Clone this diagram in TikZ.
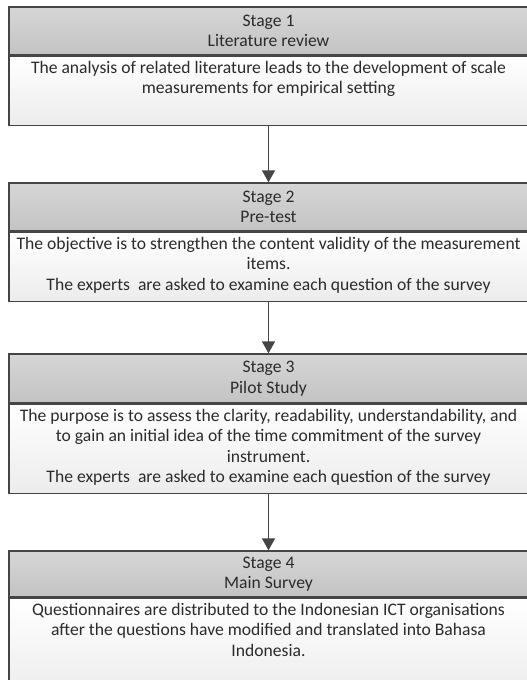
\documentclass[tikz,border=0pt]{standalone}
\usepackage{fontspec}
\setmainfont{Carlito}
\usetikzlibrary{arrows.meta}
\definecolor{bordergray}{HTML}{454545}
\definecolor{hdrtop}{HTML}{D6D6D6}
\definecolor{hdrbot}{HTML}{C3C3C3}
\definecolor{bdybot}{HTML}{ECECEC}
\definecolor{textc}{HTML}{2B2B2B}
\newcommand{\mainsz}{\fontsize{17.6}{20.5}\selectfont}
\begin{document}
\begin{tikzpicture}[x=1pt,y=-1pt,
  hdr/.style={draw=bordergray, line width=1.3pt, top color=hdrtop, bottom color=hdrbot,
    minimum width=519pt, inner sep=0pt, align=center, text=textc, font=\mainsz},
  bdy/.style={draw=bordergray, line width=1.3pt, top color=white, bottom color=bdybot,
    minimum width=519pt, inner sep=0pt, anchor=north},
  txt/.style={anchor=north, align=center, text=textc, font=\mainsz, inner sep=0pt},
  conn/.style={draw=bordergray, line width=1.3pt, -{Triangle[length=12pt,width=13pt]}}
]
\useasboundingbox (0,0) rectangle (527,680);
\fill[white] (0,0) rectangle (527,680);
\clip (0,0) rectangle (527,680);

% Stage 1
\node[hdr, minimum height=48pt] (h1) at (268.5,31) {Stage 1\\Literature review};
\node[bdy, minimum height=69pt] (b1) at (h1.south) {};
\node[txt] (t1) at ([yshift=-5pt]b1.north) {The analysis of related literature leads to the development of scale\\measurements for empirical setting};

% Stage 2
\node[hdr, minimum height=48pt] (h2) at (268.5,207) {Stage 2\\Pre-test};
\node[bdy, minimum height=69pt] (b2) at (h2.south) {};
\node[txt] (t2) at ([yshift=-5pt]b2.north) {The objective is to strengthen the content validity of the measurement\\items.\\The experts~ are asked to examine each question of the survey};

% Stage 3
\node[hdr, minimum height=49pt] (h3) at (268.5,378.5) {Stage 3\\Pilot Study};
\node[bdy, minimum height=89pt] (b3) at (h3.south) {};
\node[txt] (t3) at ([yshift=-5pt]b3.north) {The purpose is to assess the clarity, readability, understandability, and\\to gain an initial idea of the time commitment of the survey\\instrument.\\The experts~ are asked to examine each question of the survey};

% Stage 4
\node[hdr, minimum height=46pt] (h4) at (268.5,574) {Stage 4\\Main Survey};
\node[bdy, minimum height=100pt] (b4) at (h4.south) {};
\node[txt] (t4) at ([yshift=-5pt]b4.north) {Questionnaires are distributed to the Indonesian ICT organisations\\after the questions have modified and translated into Bahasa\\Indonesia.};

% connectors
\draw[conn] (b1.south) -- (h2.north);
\draw[conn] (b2.south) -- (h3.north);
\draw[conn] (b3.south) -- (h4.north);
\end{tikzpicture}
\end{document}
